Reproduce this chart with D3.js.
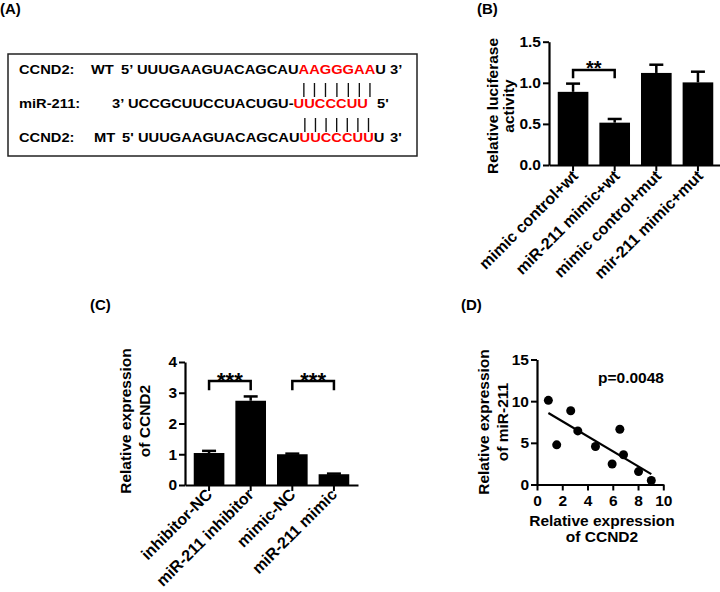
<!DOCTYPE html>
<html><head><meta charset="utf-8">
<script src="https://cdn.jsdelivr.net/npm/d3@7"></script>
<style>
body{margin:0;background:#fff;}
svg text{font-family:"Liberation Sans",Arial,sans-serif;font-weight:bold;fill:#000;}
</style></head><body>
<svg id="c" width="720" height="592"></svg>
<script>
// ---------- Panel A data ----------
const rowLabels = ["CCND2:", "miR-211:", "CCND2:"];
const rowTags = ["WT", "", "MT"];
const rowStart = ["5\u2019", "3\u2019", "5'"];
const rowSeqPre = ["UUUGAAGUACAGCAU", "UCCGCUUCCUACUGU-", "UUUGAAGUACAGCAU"];
const rowSeqRed = ["AAGGGAA", "UUCCCUU", "UUCCCUU"];
const rowSeqPost = ["U", "", "U"];
const rowEnd = ["3\u2019", "5'", "3'"];

// ---------- Panel B data ----------
const bCategories = ["mimic control+wt", "miR-211 mimic+wt", "mimic control+mut", "mir-211 mimic+mut"];
const bValues = [0.89, 0.515, 1.12, 1.005];
const bErrors = [0.10, 0.045, 0.10, 0.13];
const bTicks = [0.0, 0.5, 1.0, 1.5];

// ---------- Panel C data ----------
const cCategories = ["inhibitor-NC", "miR-211 inhibitor", "mimic-NC", "miR-211 mimic"];
const cValues = [1.04, 2.74, 1.0, 0.35];
const cErrors = [0.07, 0.14, 0.02, 0.02];
const cTicks = [0, 1, 2, 3, 4];

// ---------- Panel D data ----------
const dX = [0.9, 1.56, 2.67, 3.23, 4.63, 5.95, 6.56, 6.85, 8.04, 9.05];
const dY = [10.1, 4.76, 8.85, 6.43, 4.56, 2.46, 6.63, 3.57, 1.55, 0.48];
const dXTicks = [0, 2, 4, 6, 8, 10];
const dYTicks = [0, 5, 10, 15];
const dPText = "p=0.0048";

const svg = d3.select("#c");
const FS = 15.5;
const XFS = 16;

function panelLabel(t, x, y) {
  svg.append("text").attr("x", x).attr("y", y).attr("font-size", 15).text(t);
}
panelLabel("(A)", 0, 13.5);
panelLabel("(B)", 477, 13.5);
panelLabel("(C)", 90, 310);
panelLabel("(D)", 461, 310);

// ---------- Panel A ----------
(function(){
  const sx = 1.225, fs = 12;
  svg.append("rect").attr("x", 8).attr("y", 54).attr("width", 409).attr("height", 102)
    .attr("fill", "none").attr("stroke", "#222").attr("stroke-width", 1.5);
  const g = svg.append("g").attr("transform", `scale(${sx},1)`);
  const base = [74, 108.5, 142];
  const tagX = [91, 0, 94], startX = [121, 112, 122], seqX = [137, 128, 138], endX = [390, 377, 390];
  const redNodes = [];
  rowLabels.forEach((lab, i) => {
    g.append("text").attr("x", 19 / sx).attr("y", base[i]).attr("font-size", fs).text(lab);
    if (rowTags[i]) g.append("text").attr("x", tagX[i] / sx).attr("y", base[i]).attr("font-size", fs).text(rowTags[i]);
    g.append("text").attr("x", startX[i] / sx).attr("y", base[i]).attr("font-size", fs).text(rowStart[i]);
    const t = g.append("text").attr("x", seqX[i] / sx).attr("y", base[i]).attr("font-size", fs);
    t.append("tspan").text(rowSeqPre[i]);
    t.append("tspan").attr("fill", "#ff0000").style("fill", "#ff0000").text(rowSeqRed[i]);
    if (rowSeqPost[i]) t.append("tspan").text(rowSeqPost[i]);
    redNodes.push({text: t.node(), offset: rowSeqPre[i].length, n: rowSeqRed[i].length});
    g.append("text").attr("x", endX[i] / sx).attr("y", base[i]).attr("font-size", fs).text(rowEnd[i]);
  });
  // pairing bars at the centres of the paired (red) letters
  const pairs = [[0, [83, 97]], [2, [118, 132]]];
  pairs.forEach(([ri, [y1, y2]]) => {
    const src = redNodes[ri];
    for (let k = 0; k < src.n; k++) {
      const s = src.text.getStartPositionOfChar(src.offset + k).x;
      const e = src.text.getEndPositionOfChar(src.offset + k).x;
      const cx = (s + e) / 2;
      g.append("line").attr("x1", cx).attr("x2", cx).attr("y1", y1).attr("y2", y2)
        .attr("stroke", "#111").attr("stroke-width", 1.1);
    }
  });
})();

// ---------- generic bar chart ----------
function barChart(o) {
  const g = svg.append("g");
  const x = d3.scaleBand().domain(o.cats).range(o.xr).paddingInner(0.264).paddingOuter(0.21);
  const y = d3.scaleLinear().domain(o.yd).range(o.yr);
  g.selectAll("rect.bar").data(o.vals).join("rect")
    .attr("x", (d, i) => x(o.cats[i])).attr("width", x.bandwidth())
    .attr("y", d => y(d)).attr("height", d => y(0) - y(d)).attr("fill", "#000");
  const cw = 7;
  o.vals.forEach((v, i) => {
    const cx = x(o.cats[i]) + x.bandwidth() / 2;
    g.append("line").attr("x1", cx).attr("x2", cx).attr("y1", y(v)).attr("y2", y(v + o.errs[i]))
      .attr("stroke", "#000").attr("stroke-width", 2.5);
    g.append("line").attr("x1", cx - cw).attr("x2", cx + cw).attr("y1", y(v + o.errs[i])).attr("y2", y(v + o.errs[i]))
      .attr("stroke", "#000").attr("stroke-width", 2.5);
  });
  const ya = g.append("g").attr("transform", `translate(${o.xr[0]},0)`)
    .call(d3.axisLeft(y).tickValues(o.ticks).tickFormat(o.fmt).tickSize(6).tickSizeOuter(0).tickPadding(2));
  const xa = g.append("g").attr("transform", `translate(0,${o.yr[0]})`)
    .call(d3.axisBottom(x).tickSize(6).tickSizeOuter(0).tickFormat(""));
  [ya, xa].forEach(a => {
    a.select(".domain").attr("stroke", "#000").attr("stroke-width", 2.2);
    a.selectAll(".tick line").attr("stroke", "#000").attr("stroke-width", 2);
  });
  ya.selectAll("text").attr("font-size", FS).attr("font-family", null).style("font-weight", "bold");
  o.cats.forEach(c => {
    const cx = x(c) + x.bandwidth() / 2;
    g.append("text").attr("transform", `translate(${cx + o.lx},${o.yr[0] + o.ly}) rotate(-45)`)
      .attr("text-anchor", "end").attr("font-size", XFS).text(c);
  });
  const yl = g.append("text").attr("transform", `translate(${o.ylx},${o.yly}) rotate(-90)`)
    .attr("text-anchor", "middle").attr("font-size", FS);
  o.ylab.forEach((l, i) => yl.append("tspan").attr("x", 0).attr("dy", i ? o.ylGap : 0).text(l));
  o.sig.forEach(s => {
    const a = x(o.cats[s.from]) + x.bandwidth() / 2, b = x(o.cats[s.to]) + x.bandwidth() / 2;
    const top = y(s.top), bot = y(s.bot);
    g.append("path").attr("d", `M${a},${bot}V${top}H${b}V${bot}`).attr("fill", "none")
      .attr("stroke", "#000").attr("stroke-width", 2.5);
    g.append("text").attr("x", (a + b) / 2).attr("y", top + s.dy).attr("text-anchor", "middle")
      .attr("font-size", s.fs).text(s.label);
  });
}

barChart({
  cats: bCategories, vals: bValues, errs: bErrors, ticks: bTicks, fmt: d3.format(".1f"),
  xr: [549, 722], yd: [0, 1.5], yr: [165, 41.7],
  lx: 6, ly: 12,
  ylab: ["Relative luciferase", "activity"], ylx: 497.5, yly: 106, ylGap: 16,
  sig: [{from: 0, to: 1, top: 1.156, bot: 1.055, label: "**", fs: 20, dy: 5}]
});

barChart({
  cats: cCategories, vals: cValues, errs: cErrors, ticks: cTicks, fmt: d3.format("d"),
  xr: [185, 358], yd: [0, 4], yr: [485, 362],
  lx: 4, ly: 10.5,
  ylab: ["Relative expression", "of CCND2"], ylx: 131, yly: 421, ylGap: 18.5,
  sig: [{from: 0, to: 1, top: 3.38, bot: 3.08, label: "***", fs: 22, dy: 6.5},
        {from: 2, to: 3, top: 3.38, bot: 3.08, label: "***", fs: 22, dy: 6.5}]
});

// ---------- Panel D ----------
(function(){
  const g = svg.append("g");
  const x = d3.scaleLinear().domain([0, 10]).range([537, 663.3]);
  const y = d3.scaleLinear().domain([0, 15]).range([484.5, 359.5]);
  const ya = g.append("g").attr("transform", `translate(${x(0)},0)`)
    .call(d3.axisLeft(y).tickValues(dYTicks).tickSize(6).tickSizeOuter(0).tickPadding(2));
  const xa = g.append("g").attr("transform", `translate(0,${y(0)})`)
    .call(d3.axisBottom(x).tickValues(dXTicks).tickSize(6).tickSizeOuter(0).tickPadding(4));
  [ya, xa].forEach(a => {
    a.select(".domain").attr("stroke", "#000").attr("stroke-width", 2.2);
    a.selectAll(".tick line").attr("stroke", "#000").attr("stroke-width", 2);
    a.selectAll("text").attr("font-size", FS).attr("font-family", null).style("font-weight", "bold");
  });
  const n = dX.length, mx = d3.mean(dX), my = d3.mean(dY);
  let sxy = 0, sxx = 0;
  for (let i = 0; i < n; i++) { sxy += (dX[i] - mx) * (dY[i] - my); sxx += (dX[i] - mx) ** 2; }
  const slope = sxy / sxx, icpt = my - slope * mx;
  const x0 = d3.min(dX), x1 = d3.max(dX);
  g.append("line").attr("x1", x(x0)).attr("x2", x(x1)).attr("y1", y(icpt + slope * x0)).attr("y2", y(icpt + slope * x1))
    .attr("stroke", "#000").attr("stroke-width", 2.2);
  g.selectAll("circle").data(dX).join("circle")
    .attr("cx", d => x(d)).attr("cy", (d, i) => y(dY[i])).attr("r", 4.5).attr("fill", "#000");
  g.append("text").attr("x", 598).attr("y", 383).attr("font-size", FS).text(dPText);
  const xl = g.append("text").attr("x", 602).attr("y", 525.5).attr("text-anchor", "middle").attr("font-size", FS);
  xl.append("tspan").attr("x", 602).text("Relative expression");
  xl.append("tspan").attr("x", 602).attr("dy", 16.5).text("of CCND2");
  const yl = g.append("text").attr("transform", `translate(489,422) rotate(-90)`).attr("text-anchor", "middle").attr("font-size", FS);
  yl.append("tspan").attr("x", 0).text("Relative expression");
  yl.append("tspan").attr("x", 0).attr("dy", 19).text("of miR-211");
})();
</script>
</body></html>
